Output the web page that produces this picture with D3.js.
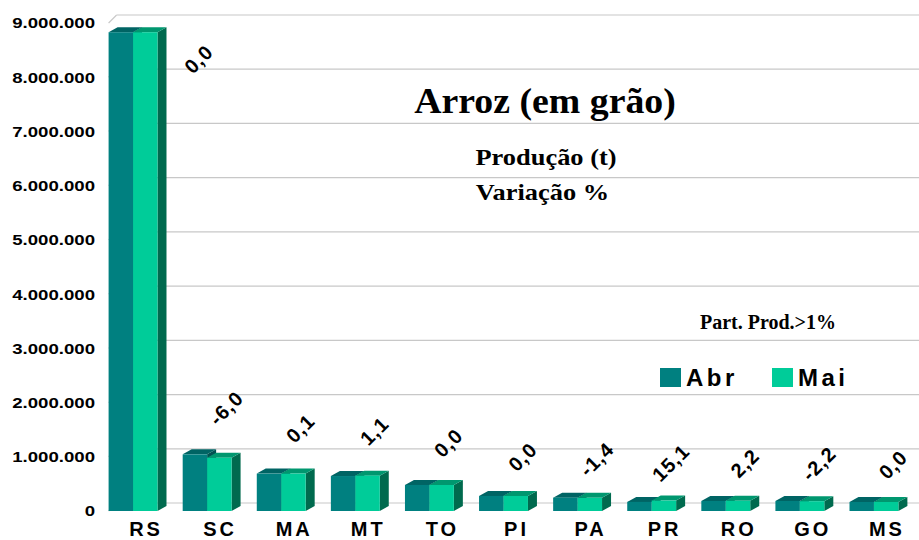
<!DOCTYPE html>
<html><head><meta charset="utf-8">
<script src="https://cdn.jsdelivr.net/npm/d3@7"></script>
<style>body{margin:0;background:#fff}svg{display:block}</style>
</head><body>
<svg id="chart" width="919" height="540"></svg>
<script>
// ---- data ----
const categories = ["RS","SC","MA","MT","TO","PI","PA","PR","RO","GO","MS"];
const seriesNames = ["Abr","Mai"];
const abrValues = [8830000,1045000,690000,645000,480000,277000,246000,168000,185000,185000,166000];
const maiValues = [8830000,982000,691000,652000,480000,277000,243000,193000,189000,181000,166000];
const variation = [0.0,-6.0,0.1,1.1,0.0,0.0,-1.4,15.1,2.2,-2.2,0.0];
const yTicks = [0,1000000,2000000,3000000,4000000,5000000,6000000,7000000,8000000,9000000];
const titleText = "Arroz (em grão)";
const subtitle1 = "Produção (t)";
const subtitle2 = "Variação %";
const noteText = "Part. Prod.>1%";

// ---- layout / style ----
const W = 919, H = 540;
const colors = {
  Abr: {front:"#008080", top:"#006464", side:"#005252"},
  Mai: {front:"#00CC99", top:"#00976F", side:"#006A4E"}
};
const barDx = 9, barDy = 5;     // bar depth offset
const wallDx = 8, wallDy = 8;   // wall depth offset
const sans = "'Liberation Sans', Arial, sans-serif";
const serif = "'Liberation Serif', 'Times New Roman', serif";

const loc = d3.formatLocale({decimal:",", thousands:".", grouping:[3], currency:["",""], minus:"-"});
const fmtTick = loc.format(",.0f");
const fmtPct = loc.format(".1f");

const svg = d3.select("#chart");

const x = d3.scaleBand().domain(categories).range([96, 911]).paddingInner(0.34).paddingOuter(0.17);
const x1 = d3.scaleBand().domain(seriesNames).range([0, x.bandwidth()]);
const y = d3.scaleLinear().domain([0, 9000000]).range([511, 23]);

function stretch(sel, f){
  sel.each(function(){
    const w = this.getComputedTextLength();
    this.setAttribute("textLength", w * f);
    this.setAttribute("lengthAdjust", "spacingAndGlyphs");
  });
}

const xLeft = x(categories[0]);

// ---- walls / gridlines ----
const grid = svg.append("g");
grid.selectAll("line.back").data(yTicks).join("line")
  .attr("x1", xLeft + wallDx).attr("x2", W)
  .attr("y1", d => y(d) - wallDy).attr("y2", d => y(d) - wallDy)
  .attr("stroke", "#C8C8C8").attr("stroke-width", 1.2);
grid.selectAll("line.side").data(yTicks).join("line")
  .attr("x1", xLeft).attr("x2", xLeft + wallDx)
  .attr("y1", d => y(d)).attr("y2", d => y(d) - wallDy)
  .attr("stroke", "#C8C8C8").attr("stroke-width", 1.2);

// ---- y axis labels ----
svg.append("g").selectAll("text").data(yTicks).join("text")
  .attr("x", 95).attr("y", d => y(d)).attr("dy", "0.36em")
  .attr("text-anchor", "end")
  .style("font-family", sans).style("font-weight", "bold").style("font-size", "15px")
  .attr("fill", "#000")
  .text(d => fmtTick(d))
  .call(stretch, 1.24);

// ---- bars ----
const bars = svg.append("g");
categories.forEach((c, i) => {
  const vals = {Abr: abrValues[i], Mai: maiValues[i]};
  seriesNames.forEach(s => {
    const x0 = x(c) + x1(s), w = x1.bandwidth();
    const yt = y(vals[s]), yb = y(0);
    const g = bars.append("g");
    g.append("polygon")
      .attr("points", [[x0+w,yt],[x0+w+barDx,yt-barDy],[x0+w+barDx,yb-barDy],[x0+w,yb]].join(" "))
      .attr("fill", colors[s].side);
    g.append("polygon")
      .attr("points", [[x0,yt],[x0+barDx,yt-barDy],[x0+w+barDx,yt-barDy],[x0+w,yt]].join(" "))
      .attr("fill", colors[s].top);
    g.append("rect")
      .attr("x", x0).attr("y", yt).attr("width", w).attr("height", yb - yt)
      .attr("fill", colors[s].front);
  });
});

// ---- category labels ----
svg.append("g").selectAll("text").data(categories).join("text")
  .attr("x", d => x(d) + x.bandwidth()/2 + 13)
  .attr("y", 536)
  .attr("text-anchor", "middle")
  .style("font-family", sans).style("font-weight", "bold").style("font-size", "20px")
  .style("letter-spacing", "3px")
  .text(d => d);

// ---- variation labels ----
const yMinLabel = y(9000000) + 36;
svg.append("g").selectAll("text").data(categories).join("text")
  .attr("transform", (d, i) => {
    const v = maiValues[i];
    let cy = y(v) - (35 + 15 * Math.min(1, v / 1000000));
    let cx = x(d) + x.bandwidth()/2 + 19;
    if (cy < yMinLabel) { cy = yMinLabel; cx = x(d) + x.bandwidth() + barDx + 32; }
    return `translate(${cx},${cy}) rotate(-45)`;
  })
  .attr("text-anchor", "middle").attr("dy", "0.36em")
  .style("font-family", sans).style("font-weight", "bold").style("font-size", "20px")
  .style("letter-spacing", "1px")
  .text((d, i) => fmtPct(variation[i]));

// ---- titles ----
svg.append("text").attr("x", 545).attr("y", 113).attr("text-anchor", "middle")
  .style("font-family", serif).style("font-weight", "bold").style("font-size", "36px")
  .text(titleText).call(stretch, 1.05);
svg.append("text").attr("x", 546).attr("y", 165).attr("text-anchor", "middle")
  .style("font-family", serif).style("font-weight", "bold").style("font-size", "24px")
  .text(subtitle1).call(stretch, 1.1);
svg.append("text").attr("x", 542.5).attr("y", 200).attr("text-anchor", "middle")
  .style("font-family", serif).style("font-weight", "bold").style("font-size", "24px")
  .text(subtitle2).call(stretch, 1.1);
svg.append("text").attr("x", 700).attr("y", 329).attr("text-anchor", "start")
  .style("font-family", serif).style("font-weight", "bold").style("font-size", "20px")
  .text(noteText);

// ---- legend ----
const legendX = [660, 772];
const legend = svg.append("g").selectAll("g").data(seriesNames).join("g")
  .attr("transform", (d, i) => `translate(${legendX[i]},368)`);
legend.append("rect").attr("width", 21).attr("height", 19).attr("fill", d => colors[d].front);
legend.append("text").attr("x", 26).attr("y", 18)
  .style("font-family", sans).style("font-weight", "bold").style("font-size", "24px")
  .style("letter-spacing", "3.5px")
  .text(d => d);
</script>
</body></html>
